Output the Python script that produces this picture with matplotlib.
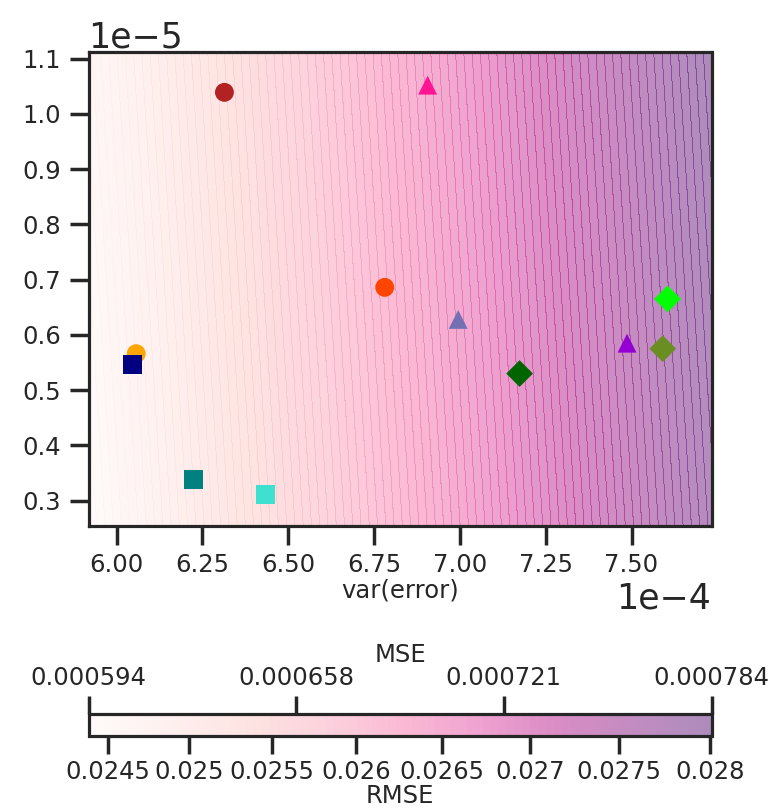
import matplotlib
matplotlib.use("Agg")
import matplotlib.pyplot as plt
import numpy as np

# model points: var(error) [1e-4], bias^2 [1e-5]
var_err = [6.314, 6.906, 6.781, 6.995, 7.605, 7.487, 7.591, 7.174, 6.057, 6.045, 6.225, 6.434]
bias_sq = [1.039, 1.052, 0.686, 0.628, 0.665, 0.585, 0.575, 0.530, 0.566, 0.546, 0.339, 0.311]
markers = ["o", "^", "o", "^", "D", "^", "D", "D", "o", "s", "s", "s"]
colors = ["firebrick", "deeppink", "orangered", "#7570b3", "lime", "darkviolet",
          "olivedrab", "darkgreen", "orange", "navy", "teal", "turquoise"]

# background grid extent
x_range = (5.918e-4, 7.733e-4)
y_range = (0.255e-5, 1.112e-5)

rmse_ticks = [0.0245, 0.025, 0.0255, 0.026, 0.0265, 0.027, 0.0275, 0.028]

ink = "#262626"
plt.rcParams.update({
    "font.family": "DejaVu Sans",
    "text.color": ink,
    "axes.labelcolor": ink,
    "xtick.color": ink,
    "ytick.color": ink,
    "axes.edgecolor": ink,
})
fs = 17.5

W, H = 772, 811
fig = plt.figure(figsize=(W / 100, H / 100), dpi=100)
ax = fig.add_axes([88.5 / W, 1 - 525.5 / H, 623 / W, 473.5 / H])

xx = np.linspace(x_range[0], x_range[1], 300)
yy = np.linspace(y_range[0], y_range[1], 300)
X, Y = np.meshgrid(xx, yy)
Z = X + Y  # MSE = var + bias^2
levels = np.linspace(Z.min(), Z.max(), 80)
cf = ax.contourf(X, Y, Z, levels=levels, cmap="RdPu", alpha=0.45)

for i in range(len(var_err)):
    ax.scatter(var_err[i] * 1e-4, bias_sq[i] * 1e-5, marker=markers[i], s=185,
               color=colors[i], edgecolors="none", zorder=3 + (1 if markers[i] == "s" else 0))

ax.set_xlim(x_range)
ax.set_ylim(y_range)
ax.ticklabel_format(style="sci", axis="both", scilimits=(0, 0))
ax.set_yticks(np.arange(0.3, 1.11, 0.1) * 1e-5)
ax.set_xticks(np.arange(6.0, 7.51, 0.25) * 1e-4)
ax.tick_params(labelsize=fs, length=14, width=2.5, pad=6)
ax.xaxis.get_offset_text().set_fontsize(25)
ax.yaxis.get_offset_text().set_fontsize(25)
for sp in ax.spines.values():
    sp.set_linewidth(2.3)
ax.set_xlabel("var(error)", fontsize=fs, labelpad=1)

cax = fig.add_axes([88.5 / W, 1 - 736 / H, 623 / W, 22 / H])
cbar = fig.colorbar(cf, cax=cax, orientation="horizontal")
cbar.set_ticks([r ** 2 for r in rmse_ticks])
cbar.set_ticklabels(["%g" % r for r in rmse_ticks])
cbar.outline.set_linewidth(2.3)
cax.tick_params(labelsize=fs, length=13, width=2.5, pad=4)
cax.set_xlabel("RMSE", fontsize=fs, labelpad=0)

top = cax.twiny()
top.set_xlim(cax.get_xlim())
mse_ticks = np.linspace(levels[0], levels[-1], 4)
top.set_xticks(mse_ticks)
top.set_xticklabels(["%.6f" % m for m in mse_ticks])
top.tick_params(labelsize=fs, length=13, width=2.5, pad=4)
top.set_xlabel("MSE", fontsize=fs, labelpad=3)
for sp in top.spines.values():
    sp.set_visible(False)

fig.savefig("out.png", dpi=100)
